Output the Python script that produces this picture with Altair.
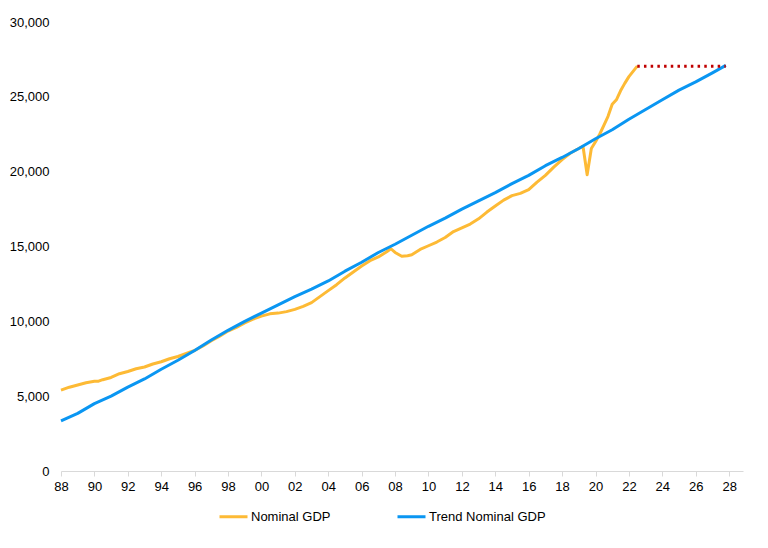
import altair as alt
import pandas as pd

# Nominal GDP
gdp_years = [1988.0, 1988.5, 1989.0, 1989.5, 1990.0, 1990.25, 1990.5, 1991.0, 1991.5, 1992.0,
             1992.5, 1993.0, 1993.5, 1994.0, 1994.5, 1995.0, 1995.5, 1996.0, 1996.5, 1997.0,
             1997.5, 1998.0, 1998.5, 1999.0, 1999.5, 2000.0, 2000.5, 2001.0, 2001.5, 2002.0,
             2002.5, 2003.0, 2003.5, 2004.0, 2004.5, 2005.0, 2005.5, 2006.0, 2006.5, 2007.0,
             2007.5, 2007.75, 2008.0, 2008.4, 2008.75, 2009.0, 2009.5, 2010.0, 2010.5, 2011.0,
             2011.5, 2012.0, 2012.5, 2013.0, 2013.5, 2014.0, 2014.5, 2015.0, 2015.5, 2016.0,
             2016.5, 2017.0, 2017.5, 2018.0, 2018.5, 2019.0, 2019.25, 2019.5, 2019.75, 2020.0,
             2020.25, 2020.5, 2020.75, 2021.0, 2021.25, 2021.5, 2021.75, 2022.0, 2022.25, 2022.5]
gdp_values = [5400, 5600, 5750, 5900, 6000, 6000, 6100, 6250, 6500, 6650,
              6830, 6950, 7150, 7300, 7500, 7650, 7850, 8050, 8350, 8700,
              9000, 9350, 9600, 9900, 10150, 10350, 10500, 10550, 10650, 10800,
              11000, 11250, 11650, 12050, 12450, 12900, 13300, 13700, 14050, 14300,
              14650, 14850, 14600, 14350, 14380, 14450, 14800, 15050, 15300, 15600,
              16000, 16250, 16500, 16850, 17300, 17700, 18100, 18400, 18550, 18800,
              19300, 19750, 20300, 20800, 21250, 21550, 21700, 19800, 21550, 22000,
              22500, 23100, 23700, 24500, 24800, 25400, 25900, 26350, 26700, 27050]

# Trend nominal GDP
trend_years = [1988, 1989, 1990, 1991, 1992, 1993, 1994, 1995, 1996, 1997,
               1998, 1999, 2000, 2001, 2002, 2003, 2004, 2005, 2006, 2007,
               2008, 2009, 2010, 2011, 2012, 2013, 2014, 2015, 2016, 2017,
               2018, 2019, 2020, 2021, 2022, 2023, 2024, 2025, 2026, 2027, 2027.8]
trend_values = [3350, 3850, 4500, 5000, 5600, 6150, 6800, 7400, 8050, 8750,
                9400, 10000, 10550, 11100, 11650, 12150, 12700, 13350, 13950, 14600,
                15150, 15750, 16350, 16900, 17500, 18050, 18600, 19200, 19750, 20400,
                20950, 21550, 22200, 22800, 23500, 24150, 24800, 25450, 26000, 26600, 27100]

# Flat projection of the latest level
proj_years = [2022.5, 2027.8]
proj_values = [27050, 27050]

x_ticks = list(range(1988, 2029, 2))
y_ticks = [0, 5000, 10000, 15000, 20000, 25000, 30000]

series_names = ["Nominal GDP", "Trend Nominal GDP"]
series_colors = ["#FDBA35", "#0A96F2"]

df = pd.concat([
    pd.DataFrame({"year": gdp_years, "value": gdp_values, "series": series_names[0], "order": 0}),
    pd.DataFrame({"year": trend_years, "value": trend_values, "series": series_names[1], "order": 1}),
])
proj = pd.DataFrame({"year": proj_years, "value": proj_values})

FONT = "Liberation Sans"

x_enc = alt.X("year:Q",
              scale=alt.Scale(domain=[1988, 2028.83], nice=False, zero=False),
              axis=alt.Axis(values=x_ticks, labelExpr="format(datum.value % 100, '02d')",
                            title=None, grid=False, domainColor="#D9D9D9", tickColor="#D9D9D9",
                            tickSize=5, labelFontSize=13, labelColor="#000000", labelFont=FONT,
                            labelPadding=4, labelFlush=False, labelOverlap=False))
y_enc = alt.Y("value:Q",
              scale=alt.Scale(domain=[0, 30000], nice=False),
              axis=alt.Axis(values=y_ticks, labelExpr="format(datum.value, ',.0f')",
                            title=None, grid=False, domain=False,
                            ticks=False, labelFontSize=13, labelColor="#000000", labelFont=FONT,
                            labelPadding=12, labelOverlap=False))

lines = alt.Chart(df).mark_line(strokeWidth=3, strokeJoin="round").encode(
    x=x_enc,
    y=y_enc,
    color=alt.Color("series:N",
                    scale=alt.Scale(domain=series_names, range=series_colors),
                    legend=alt.Legend(title=None, orient="none", direction="horizontal",
                                      legendX=157, legendY=479, symbolType="stroke",
                                      symbolStrokeWidth=3, symbolSize=784,
                                      labelFontSize=13, labelFont=FONT, labelColor="#000000",
                                      columnPadding=60, labelOffset=2)),
    order="order:Q",
    detail="series:N",
)

proj_line = alt.Chart(proj).mark_line(color="#C00000", strokeWidth=3, strokeDash=[2.5, 4.2],
                                      strokeCap="butt").encode(
    x=x_enc, y=y_enc)

chart = alt.layer(lines, proj_line).properties(
    width=682, height=449,
    padding={"left": 61, "top": 22, "right": 25, "bottom": 77},
    autosize=alt.AutoSizeParams(type="none"),
).configure(font=FONT).configure_view(stroke=None)

chart.save("out.html", embed_options={"renderer": "svg", "actions": False})
